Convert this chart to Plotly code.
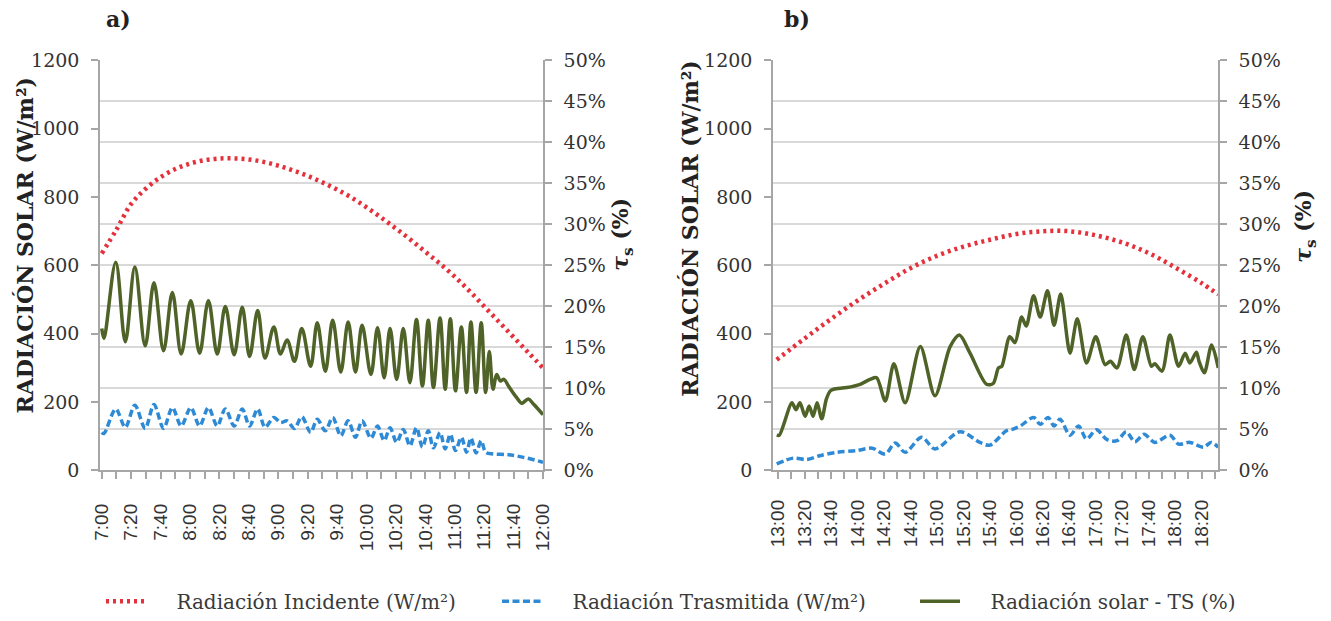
import plotly.graph_objects as go

# ---------------- data ----------------
# Times are minutes after the first tick of each panel (7:00 for a, 13:00 for b)

# Panel a) morning, 7:00 - 12:00
ticks_a = ["7:00", "7:20", "7:40", "8:00", "8:20", "8:40", "9:00", "9:20",
           "9:40", "10:00", "10:20", "10:40", "11:00", "11:20", "11:40", "12:00"]

inc_a_t = [0, 10, 20, 30, 40, 50, 60, 70, 80, 90, 100, 110, 120, 130, 140, 150,
           160, 170, 180, 190, 200, 210, 220, 230, 240, 250, 260, 270, 280, 290, 300]
inc_a_w = [635, 705, 780, 825, 858, 882, 898, 908, 913, 913, 910, 903, 892, 878,
           862, 843, 822, 798, 770, 740, 708, 675, 640, 605, 567, 525, 480, 435,
           390, 345, 300]

ts_a_t = [0, 1.5, 9.5, 16, 22.5, 29.5, 35.5, 42, 48, 54, 60.5, 66.5, 72.5, 78.5,
          84, 90, 95.5, 100.5, 106, 111, 117, 121.5, 126, 131, 136, 142, 146.5,
          152, 157, 162.5, 167.5, 172.5, 177, 183, 187.5, 192, 196, 200.5, 205,
          209.5, 214, 218, 222, 225.5, 230, 233.5, 237, 240.5, 244.5, 248, 251,
          254.5, 258, 261, 263.5, 266, 268.5, 271, 273.5, 276.5, 282, 285.5, 290,
          293.5, 300]
ts_a_pct = [17.3, 16.1, 25.4, 15.7, 24.8, 15.2, 22.9, 14.6, 21.7, 14.2, 20.7, 14.3,
            20.7, 14.2, 20.0, 14.1, 19.9, 13.9, 19.5, 13.7, 17.5, 14.2, 15.9, 13.3,
            17.3, 12.7, 18.0, 12.1, 18.3, 12.0, 18.1, 12.0, 17.7, 11.7, 17.4, 11.3,
            17.3, 11.1, 17.3, 10.7, 18.4, 10.3, 18.3, 10.1, 18.6, 9.9, 18.5, 9.7,
            17.5, 9.5, 18.1, 9.5, 18.0, 9.5, 14.5, 9.9, 11.7, 10.9, 11.1, 10.3,
            8.9, 8.2, 8.7, 8.1, 6.8]

tr_a_t = [0, 1.5, 9.5, 16, 22.5, 29.5, 35.5, 42, 48, 54, 60.5, 66.5, 72.5, 78.5,
          84, 90, 95.5, 100.5, 106, 111, 117, 121.5, 126, 131, 136, 142, 146.5,
          152, 157, 162.5, 167.5, 172.5, 177, 183, 187.5, 192, 196, 200.5, 205,
          209.5, 214, 218, 222, 225.5, 230, 233.5, 237, 240.5, 244.5, 248, 251,
          254.5, 258, 261, 266, 276.5, 286, 300]
tr_a_w = [111, 108, 180, 126, 191, 123, 193, 123, 184, 130, 184, 130, 184, 130,
          180, 130, 180, 130, 180, 126, 155, 140, 145, 123, 157, 111, 150, 116,
          155, 101, 145, 97, 145, 94, 130, 87, 125, 82, 120, 72, 125, 68, 116, 66,
          111, 63, 106, 58, 97, 53, 95, 51, 87, 53, 48, 46, 39, 24]

# Panel b) afternoon, 13:00 - 18:30
ticks_b = ["13:00", "13:20", "13:40", "14:00", "14:20", "14:40", "15:00", "15:20",
           "15:40", "16:00", "16:20", "16:40", "17:00", "17:20", "17:40", "18:00",
           "18:20"]

inc_b_t = [-1, 20, 40, 60, 80, 100, 120, 140, 160, 180, 200, 220, 240, 260, 280,
           300, 320, 332.5]
inc_b_w = [324, 386, 443, 497, 546, 592, 628, 655, 675, 692, 700, 700, 688, 667,
           636, 594, 548, 515]

ts_b_t = [-1, 1, 10.5, 13.5, 16.5, 20.5, 23.5, 26.5, 29.5, 33, 36.5, 39.5, 42, 52,
          62, 69.5, 74.5, 81, 87.5, 96, 107.5, 118.5, 130, 137, 145, 157.5, 162.5,
          166.5, 169, 175, 179, 184, 187.5, 193, 198, 203.5, 208.5, 213.5, 220.5,
          226, 233, 240, 247, 251, 256, 263, 269, 275.5, 282, 284.5, 290, 296,
          302.5, 307.5, 311, 316, 318, 322, 327.5, 332.5]
ts_b_pct = [4.3, 4.3, 8.25, 7.4, 8.25, 6.6, 7.85, 6.6, 8.25, 6.3, 8.7, 9.7, 9.9,
            10.1, 10.5, 11.1, 11.3, 8.45, 13.0, 8.25, 15.1, 9.1, 15.1, 16.5, 14.3,
            10.5, 10.6, 12.5, 12.7, 16.3, 15.6, 18.7, 17.6, 21.3, 18.7, 21.9, 17.7,
            21.5, 14.3, 18.5, 13.1, 16.3, 12.9, 13.3, 12.5, 16.5, 12.3, 16.3, 12.7,
            13.0, 12.1, 16.5, 12.7, 14.3, 13.1, 14.4, 13.3, 11.9, 15.3, 12.5]

tr_b_t = [-1, 11.5, 21.5, 31.5, 44.5, 59.5, 71, 81, 88.5, 96, 108.5, 118.5, 137.5,
          152.5, 160, 172.5, 177.5, 183, 193, 198, 204, 208.5, 213, 220.5, 227,
          233, 240.5, 248.5, 256, 263, 269.5, 276.5, 284.5, 296, 302.5, 311,
          321.5, 327, 332.5]
tr_b_w = [19, 36, 32, 43, 53, 58, 65, 48, 80, 53, 97, 63, 113, 82, 74, 116, 121,
          130, 155, 135, 155, 130, 150, 103, 130, 92, 119, 90, 87, 113, 84, 106,
          82, 103, 77, 82, 68, 82, 68]

# ---------------- styling ----------------
RED = "#E4313B"
BLUE = "#2F8AD6"
GREEN = "#4F6228"
AXIS = "#A6A6A6"
GRID = "#D9D9D9"
TXT = "#333333"
SERIF = "DejaVu Serif"
SANS = "Liberation Sans"

GAP = "\u00a0" * 4  # space between legend sample and its label
NAME_INC = GAP + "Radiación Incidente (W/m²)"
NAME_TR = GAP + "Radiación Trasmitida (W/m²)"
NAME_TS = GAP + "Radiación solar - TS (%)"


def to_min(label):
    h, m = label.split(":")
    return int(h) * 60 + int(m)


def shift(ts, start):
    return [start + t for t in ts]


start_a = to_min(ticks_a[0])
start_b = to_min(ticks_b[0])

fig = go.Figure()


def add_panel(xa, ya_left, ya_right, start, inc_t, inc_w, tr_t, tr_w, ts_t, ts_p,
              show, smooth):
    fig.add_trace(go.Scatter(
        x=shift(inc_t, start), y=inc_w, xaxis=xa, yaxis=ya_left, mode="lines",
        name=NAME_INC, legend="legend", showlegend=show,
        line=dict(color=RED, width=4.5, dash="3px,4px", shape="spline"),
    ))
    fig.add_trace(go.Scatter(
        x=shift(tr_t, start), y=tr_w, xaxis=xa, yaxis=ya_left, mode="lines",
        name=NAME_TR, legend="legend2", showlegend=show,
        line=dict(color=BLUE, width=3.5, dash="7px,3.5px", shape="spline", smoothing=0.9),
    ))
    fig.add_trace(go.Scatter(
        x=shift(ts_t, start), y=ts_p, xaxis=xa, yaxis=ya_right, mode="lines",
        name=NAME_TS, legend="legend3", showlegend=show,
        line=dict(color=GREEN, width=3.5, shape="spline", smoothing=smooth),
    ))


add_panel("x", "y", "y2", start_a, inc_a_t, inc_a_w, tr_a_t, tr_a_w, ts_a_t, ts_a_pct,
          True, 1.0)
add_panel("x2", "y3", "y4", start_b, inc_b_t, inc_b_w, tr_b_t, tr_b_w, ts_b_t, ts_b_pct,
          False, 0.8)

W, H = 1331, 621
y_dom = [(H - 475) / H, (H - 61) / H]

line_style = dict(showline=True, linecolor=AXIS, linewidth=1.5, ticks="outside",
                  ticklen=7, tickcolor=AXIS, tickwidth=1.5, zeroline=False,
                  automargin=False)


def x_axis(ticks, dom, rng, anchor, standoff):
    vals = [to_min(t) for t in ticks]
    minor_vals = [v + 10 for v in vals]
    return dict(domain=dom, range=rng, anchor=anchor, showgrid=False,
                tickmode="array", tickvals=vals, ticktext=ticks, tickangle=-90,
                tickfont=dict(family=SANS, size=19, color=TXT),
                ticklabelstandoff=standoff,
                minor=dict(tickmode="array", tickvals=minor_vals, ticks="outside",
                           ticklen=7, tickcolor=AXIS, tickwidth=1.5),
                **line_style)


def y_left(anchor):
    return dict(domain=y_dom, range=[0, 1200], dtick=200, anchor=anchor,
                showgrid=False, tickfont=dict(family=SERIF, size=19, color=TXT),
                ticklabelstandoff=8, **line_style)


def y_right(over, anchor):
    return dict(overlaying=over, side="right", anchor=anchor, range=[0, 50],
                dtick=5, ticksuffix="%", showgrid=True, gridcolor=GRID,
                gridwidth=1.5, tickfont=dict(family=SERIF, size=19, color=TXT),
                ticklabelstandoff=8, **line_style)


fig.update_layout(
    width=W, height=H, autosize=False,
    margin=dict(l=0, r=0, t=0, b=0),
    paper_bgcolor="white", plot_bgcolor="white",
    xaxis=x_axis(ticks_a, [100 / W, 543 / W], [start_a - 1.2, start_a + 300], "y", 17),
    yaxis=y_left("x"),
    yaxis2=y_right("y", "x"),
    xaxis2=x_axis(ticks_b, [773 / W, 1218 / W], [start_b - 3.8, start_b + 332.3], "y3", 13),
    yaxis3=y_left("x2"),
    yaxis4=y_right("y3", "x2"),
)

legend_common = dict(orientation="h", yanchor="middle", xanchor="left",
                     bgcolor="rgba(0,0,0,0)", itemwidth=40,
                     font=dict(family=SERIF, size=20, color="#3A3A3A"))
leg_y = (H - 607) / H
fig.update_layout(
    legend=dict(x=101 / W, y=leg_y, **legend_common),
    legend2=dict(x=497 / W, y=leg_y, **legend_common),
    legend3=dict(x=915 / W, y=leg_y, **legend_common),
)

# panel letters and axis titles
title_font = dict(family=SERIF, size=22, color="#222222")
ann = [
    dict(text="<b>a)</b>", x=118 / W, y=(H - 19) / H, textangle=0),
    dict(text="<b>b)</b>", x=797 / W, y=(H - 19) / H, textangle=0),
    dict(text="<b>RADIACIÓN SOLAR (W/m²)</b>", x=25 / W, y=(H - 248) / H, textangle=-90),
    dict(text="<b>RADIACIÓN SOLAR (W/m²)</b>", x=690 / W, y=(H - 231) / H, textangle=-90),
    dict(text="<b><i>τ</i><sub>s</sub> (%)</b>", x=622 / W, y=(H - 237) / H, textangle=-90),
    dict(text="<b><i>τ</i><sub>s</sub> (%)</b>", x=1305 / W, y=(H - 229) / H, textangle=-90),
]
for a in ann:
    fig.add_annotation(xref="paper", yref="paper", showarrow=False,
                       xanchor="center", yanchor="middle", font=title_font, **a)

fig.write_html("out.html")
